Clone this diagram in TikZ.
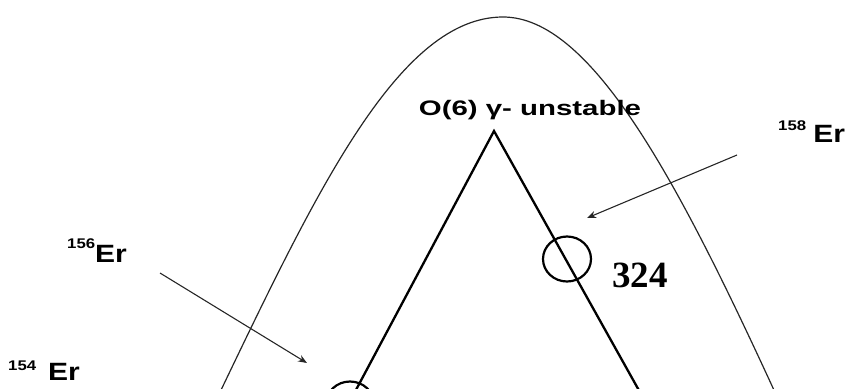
\documentclass[tikz,border=0pt]{standalone}
\usepackage{fontspec}
\setmainfont{Liberation Sans}
\newfontfamily\numfont{Liberation Serif}
\usetikzlibrary{arrows.meta,shapes.geometric}
\newcommand\isotope[3]{\raisebox{#3pt}{\fontsize{14}{14}\selectfont #1}#2}
\newcommand\widetext[2]{\scalebox{#1}[1]{#2}}
\tikzset{
  lbl/.style={anchor=base west, inner sep=0pt, font=\bfseries\fontsize{25}{25}\selectfont},
  tri/.style={line width=2.3pt, black},
  arc/.style={line width=1.2pt, black!85},
  ptr/.style={line width=1.1pt, black!85, -{Stealth[length=9pt,width=7pt]}},
  ring/.style={draw, line width=2.2pt, ellipse, inner sep=0pt, minimum width=48pt, minimum height=45pt}
}
\begin{document}
\begin{tikzpicture}[x=1pt,y=-1pt]
\useasboundingbox (0,0) rectangle (848,388);
\clip (0,0) rectangle (848,388);
% outer arc
\coordinate (aL) at (222,388);
\coordinate (aT) at (503,17);
\coordinate (aR) at (773,388);
\draw[arc] (214,404) -- (aL) .. controls (318,188) and (400,17) .. (aT)
  .. controls (590,17) and (675,175) .. (aR) -- (780,404);
% triangle
\coordinate (apex) at (494,131);
\coordinate (bl) at (349,403);
\coordinate (br) at (646,403);
\draw[tri] (bl) -- (apex) -- (br);
% circles
\node[ring] (c324) at (567,259) {};
\node[ring] (c154) at (350,404) {};
% labels
\node[anchor=base, inner sep=0pt, font=\bfseries\fontsize{21}{21}\selectfont] (o6) at (530,115) {\widetext{1.4}{O(6) γ- unstable}};
\node[anchor=base west, inner sep=0pt, font=\numfont\bfseries\fontsize{37}{37}\selectfont] (n324) at (612,287) {324};
\node[lbl] (e158) at (778,142) {\widetext{1.2}{\isotope{158}{\hspace{6pt}Er}{12}}};
\node[lbl] (e156) at (67,262) {\widetext{1.2}{\isotope{156}{Er}{14}}};
\node[lbl] (e154) at (8,380) {\widetext{1.2}{\isotope{154}{\hspace{10pt}Er}{10}}};
% arrows
\coordinate (s156) at (160,273);
\coordinate (t156) at (307,363);
\coordinate (s158) at (737,155);
\coordinate (t158) at (587,218);
\draw[ptr] (s156) -- (t156);
\draw[ptr] (s158) -- (t158);
\end{tikzpicture}
\end{document}
